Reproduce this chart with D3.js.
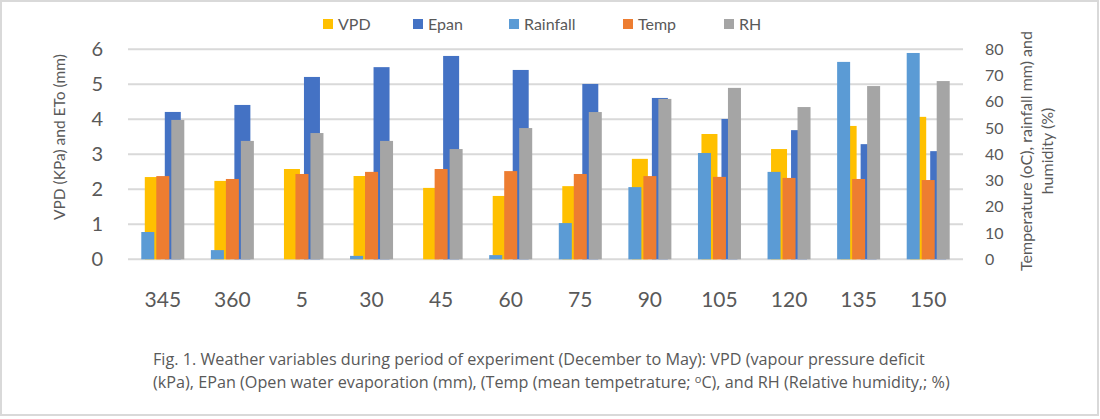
<!DOCTYPE html>
<html>
<head>
<meta charset="utf-8">
<script src="https://cdn.jsdelivr.net/npm/d3@7"></script>
<style>
    body { margin: 0; background: #fff; }
    text { font-family: Lato, "Open Sans", sans-serif; fill: #595959; }
</style>
</head>
<body>
<svg id="chart" width="1100" height="419"></svg>
<script>
// days (categories)
var days = ['345', '360', '5', '30', '45', '60', '75', '90', '105', '120', '135', '150']
// primary axis series
var vpd = [2.35, 2.24, 2.58, 2.38, 2.04, 1.81, 2.09, 2.87, 3.58, 3.15, 3.81, 4.07]
var epan = [4.21, 4.41, 5.21, 5.49, 5.81, 5.41, 5.01, 4.61, 4.01, 3.69, 3.29, 3.09]
// secondary axis series
var rainfall = [10.4, 3.5, 0, 1.3, 0, 1.6, 13.8, 27.5, 40.5, 33.3, 75.2, 78.6]
var temp = [31.7, 30.6, 32.5, 33.3, 34.4, 33.6, 32.5, 31.7, 31.4, 31.0, 30.6, 30.2]
var rh = [53.1, 45.1, 48.1, 45.1, 42.0, 50.0, 56.1, 61.1, 65.3, 58.0, 66.0, 67.9]

var leftTicks = [0, 1, 2, 3, 4, 5, 6]
var rightTicks = [0, 10, 20, 30, 40, 50, 60, 70, 80]

var primarySeries = [
    { name: 'VPD', values: vpd, color: '#FFC000' },
    { name: 'Epan', values: epan, color: '#4472C4' }
]
var secondarySeries = [
    { name: 'Rainfall', values: rainfall, color: '#5B9BD5' },
    { name: 'Temp', values: temp, color: '#ED7D31' },
    { name: 'RH', values: rh, color: '#A5A5A5' }
]
var legendOrder = [primarySeries[0], primarySeries[1], secondarySeries[0], secondarySeries[1], secondarySeries[2]]

var svg = d3.select('#chart')

var plotLeft = 128, plotRight = 963, plotTop = 49.3, plotBottom = 259.3

// outer border
svg.append('rect')
    .attr('x', 1).attr('y', 1)
    .attr('width', 1097).attr('height', 414)
    .style('fill', 'white')
    .style('stroke', '#d9d9d9')
    .style('stroke-width', 2)

var xScale = d3.scaleBand().domain(days).range([plotLeft, plotRight])
var yLeft = d3.scaleLinear().domain([0, 6]).range([plotBottom, plotTop])
var yRight = d3.scaleLinear().domain([0, 80]).range([plotBottom, plotTop])

// primary group: 2 bars of 16px with 4px gap
var xPrimary = d3.scaleBand().domain(d3.range(2)).range([0, 36]).paddingInner(0.2)
// secondary group: 3 bars of 13px with 2px gap
var xSecondary = d3.scaleBand().domain(d3.range(3)).range([0, 43]).paddingInner(0.133)

// gridlines
svg.append('g')
    .selectAll('line')
    .data(leftTicks)
    .enter()
    .append('line')
    .attr('x1', plotLeft).attr('x2', plotRight)
    .attr('y1', function (d) { return yLeft(d) })
    .attr('y2', function (d) { return yLeft(d) })
    .style('stroke', '#d9d9d9')
    .style('stroke-width', 2)

function drawGroup(seriesList, inner, width, yScale) {
    seriesList.forEach(function (s, si) {
        svg.append('g')
            .selectAll('rect')
            .data(s.values)
            .enter()
            .append('rect')
            .attr('x', function (d, i) {
                return xScale(days[i]) + xScale.bandwidth() / 2 - width / 2 + inner(si)
            })
            .attr('y', function (d) { return yScale(d) })
            .attr('width', inner.bandwidth())
            .attr('height', function (d) { return plotBottom - yScale(d) })
            .style('fill', s.color)
    })
}
drawGroup(primarySeries, xPrimary, 36, yLeft)
drawGroup(secondarySeries, xSecondary, 43, yRight)

// left axis labels
svg.append('g')
    .selectAll('text')
    .data(leftTicks)
    .enter()
    .append('text')
    .attr('x', 103)
    .attr('y', function (d) { return yLeft(d) + 7 })
    .attr('text-anchor', 'end')
    .style('font-size', '20px')
    .text(function (d) { return d })

// right axis labels
svg.append('g')
    .selectAll('text')
    .data(rightTicks)
    .enter()
    .append('text')
    .attr('x', 985)
    .attr('y', function (d) { return yRight(d) + 5.5 })
    .style('font-size', '16px')
    .text(function (d) { return d })

// category labels
svg.append('g')
    .selectAll('text')
    .data(days)
    .enter()
    .append('text')
    .attr('x', function (d) { return xScale(d) + xScale.bandwidth() / 2 })
    .attr('y', 307)
    .attr('text-anchor', 'middle')
    .style('font-size', '21px')
    .text(function (d) { return d })

// axis titles
svg.append('text')
    .attr('transform', 'translate(65,137) rotate(-90)')
    .attr('text-anchor', 'middle')
    .style('font-size', '15.5px')
    .text('VPD (KPa) and ETo (mm)')

var rightTitle = svg.append('text')
    .attr('transform', 'translate(1032,151) rotate(-90)')
    .attr('text-anchor', 'middle')
    .style('font-size', '16px')
rightTitle.append('tspan').attr('x', 0).attr('dy', 0).text('Temperature (oC), rainfall mm) and')
rightTitle.append('tspan').attr('x', 0).attr('dy', 21).text('humidity (%)')

// legend
var legendX = [323, 413, 509, 623, 724]
var legend = svg.append('g')
    .selectAll('g')
    .data(legendOrder)
    .enter()
    .append('g')
    .attr('transform', function (d, i) { return 'translate(' + legendX[i] + ',19)' })
legend.append('rect')
    .attr('width', 10).attr('height', 10)
    .style('fill', function (d) { return d.color })
legend.append('text')
    .attr('x', 15).attr('y', 10.5)
    .style('font-size', '16px')
    .text(function (d) { return d.name })

// caption
var caption = svg.append('text')
    .style('font-family', '"Open Sans", sans-serif')
    .style('font-size', '16.2px')
caption.append('tspan').attr('x', 153).attr('y', 365)
    .text('Fig. 1. Weather variables during period of experiment (December to May): VPD (vapour pressure deficit')
var line2 = caption.append('tspan').attr('x', 153).attr('y', 388)
line2.text('(kPa), EPan (Open water evaporation (mm), (Temp (mean tempetrature; ')
caption.append('tspan').attr('dy', -5).style('font-size', '11px').text('o')
caption.append('tspan').attr('dy', 5).text('C), and RH (Relative humidity,; %)')
</script>
</body>
</html>
